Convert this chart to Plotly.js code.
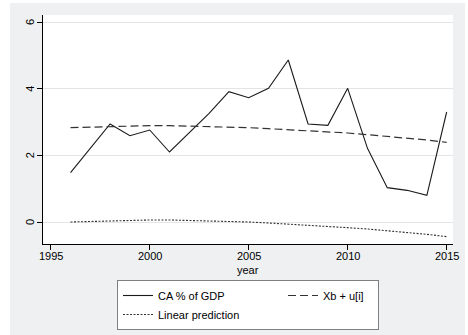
<!DOCTYPE html>
<html>
<head>
<meta charset="utf-8">
<script src="https://cdn.plot.ly/plotly-3.0.1.min.js"></script>
<style>html,body{margin:0;padding:0;background:#fff;}#chart{width:468px;height:335px;}</style>
</head>
<body>
<div id="chart"></div>
<script>
var years = [1996,1997,1998,1999,2000,2001,2002,2003,2004,2005,2006,2007,2008,2009,2010,2011,2012,2013,2014,2015];
var caGDP = [1.48,2.21,2.94,2.59,2.76,2.10,2.68,3.26,3.91,3.73,4.01,4.86,2.94,2.90,4.01,2.21,1.03,0.95,0.80,3.30];
var xbU = [2.83,2.85,2.87,2.88,2.89,2.89,2.88,2.87,2.85,2.83,2.80,2.77,2.74,2.71,2.67,2.62,2.57,2.52,2.46,2.39];
var linPred = [0.00,0.02,0.04,0.05,0.06,0.06,0.05,0.04,0.02,0.00,-0.03,-0.06,-0.09,-0.13,-0.17,-0.21,-0.26,-0.31,-0.37,-0.44];
var seriesNames = ["CA % of GDP","Xb + u[i]","Linear prediction"];
var yTicks = [0,2,4,6];
var xTicks = [1995,2000,2005,2010,2015];
var xTitle = "year";

var traces = [
  {x: years, y: caGDP, name: seriesNames[0], type: 'scatter', mode: 'lines',
   line: {color: '#1a1a1a', width: 1.1}, legendwidth: 120},
  {x: years, y: xbU, name: seriesNames[1], type: 'scatter', mode: 'lines',
   line: {color: '#333333', width: 1.2, dash: '8px,4px'}, legendwidth: 50},
  {x: years, y: linPred, name: seriesNames[2], type: 'scatter', mode: 'lines',
   line: {color: '#333333', width: 1.1, dash: '2px,1.5px'}, legendwidth: 120}
];

var plotW = 410, plotH = 229, mL = 43, mT = 15;
function px2paperX(p) { return (p - mL) / plotW; }
function px2paperY(p) { return (mT + plotH - p) / plotH; }

var annotations = [];
yTicks.forEach(function(v) {
  annotations.push({xref: 'paper', yref: 'y', x: px2paperX(30), y: v, text: String(v),
    showarrow: false, textangle: -90, xanchor: 'center', yanchor: 'middle',
    font: {size: 11, color: '#000'}});
});
xTicks.forEach(function(v) {
  annotations.push({xref: 'x', yref: 'paper', x: v, y: px2paperY(256), text: String(v),
    showarrow: false, xanchor: 'center', yanchor: 'middle',
    font: {size: 11, color: '#000'}});
});
annotations.push({xref: 'paper', yref: 'paper', x: 0.5, y: px2paperY(270), text: xTitle,
  showarrow: false, xanchor: 'center', yanchor: 'middle', font: {size: 11, color: '#000'}});

var layout = {
  width: 468, height: 335,
  margin: {l: 43, r: 15, t: 15, b: 91, autoexpand: false},
  paper_bgcolor: '#ffffff',
  plot_bgcolor: '#ffffff',
  font: {family: '"Liberation Sans", Arial, Helvetica, sans-serif', size: 11, color: '#000'},
  showlegend: true,
  legend: {
    orientation: 'h', x: 0.5, xanchor: 'center', y: px2paperY(280), yanchor: 'top',
    bgcolor: '#ffffff', bordercolor: '#7f7f7f', borderwidth: 1,
    font: {size: 11, color: '#000'}, traceorder: 'normal'
  },
  xaxis: {
    range: [1994.61, 2015.32], tickvals: xTicks, ticks: 'outside', ticklen: 5,
    tickcolor: '#000', showline: true, linecolor: '#000', linewidth: 1,
    showgrid: false, zeroline: false, showticklabels: false, automargin: false
  },
  yaxis: {
    range: [-0.66, 6.21], tickvals: yTicks, ticks: 'outside', ticklen: 5,
    tickcolor: '#000', showline: true, linecolor: '#000', linewidth: 1,
    showgrid: true, gridcolor: '#e4e4e4', gridwidth: 1, zeroline: false,
    showticklabels: false, automargin: false
  },
  annotations: annotations,
  shapes: [
    {type: 'rect', xref: 'paper', yref: 'paper', x0: px2paperX(10), x1: px2paperX(465), y0: px2paperY(336), y1: px2paperY(3),
     fillcolor: '#eef0f2', line: {width: 0}, layer: 'below'},
    {type: 'rect', xref: 'paper', yref: 'paper', x0: 0, x1: 1, y0: 0, y1: 1,
     fillcolor: '#ffffff', line: {width: 0}, layer: 'below'}
  ]
};

Plotly.newPlot('chart', traces, layout, {displayModeBar: false, staticPlot: true});
</script>
</body>
</html>
